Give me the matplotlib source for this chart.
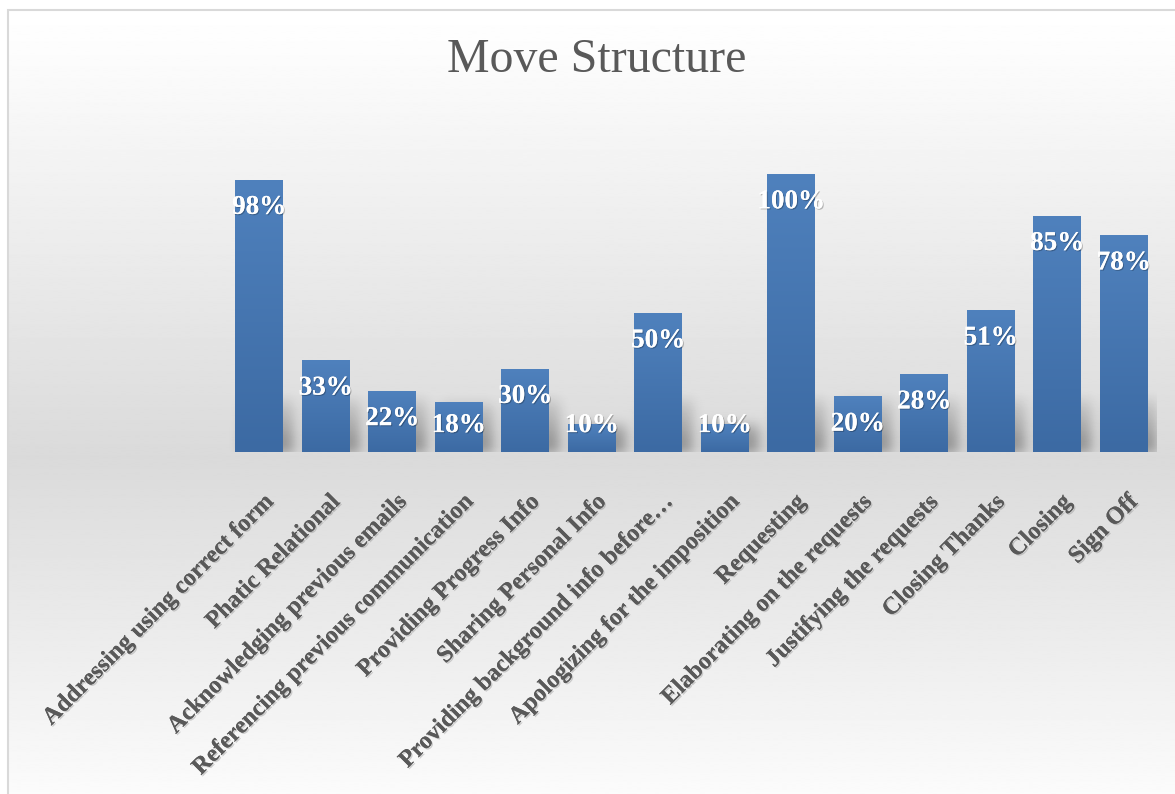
import numpy as np
import matplotlib
matplotlib.use("Agg")
import matplotlib.pyplot as plt
import matplotlib.patheffects as pe
from matplotlib import transforms
from matplotlib.colors import LinearSegmentedColormap
from matplotlib.patches import Rectangle

moves = ['Addressing using correct form',
         'Phatic Relational',
         'Acknowledging previous emails',
         'Referencing previous communication',
         'Providing Progress Info',
         'Sharing Personal Info',
         'Providing background info before\u2026',
         'Apologizing for the imposition',
         'Requesting',
         'Elaborating on the requests',
         'Justifying the requests',
         'Closing Thanks',
         'Closing',
         'Sign Off']
percent = [98, 33, 22, 18, 30, 10, 50, 10, 100, 20, 28, 51, 85, 78]
title = 'Move Structure'

serif = ['Liberation Serif', 'DejaVu Serif']
W, H = 1175, 794
fig = plt.figure(figsize=(W / 100, H / 100), dpi=100)
fig.patch.set_facecolor('white')

# grey gradient behind the chart, inside the frame
bg = fig.add_axes([8 / W, 0, 1 - 8 / W, 1 - 10 / H], zorder=0)
rows = np.linspace(0, 1, 500)
shade = np.interp(rows, [0, 0.05, 0.57, 1.0], [1.0, 0.99, 0.855, 0.985])
bg.imshow(shade[:, None], cmap='gray', vmin=0, vmax=1, aspect='auto',
          extent=[0, 1, 0, 1], interpolation='bilinear')
bg.axis('off')

fig.add_artist(Rectangle((8 / W, -0.02), 1.1, 1 - 10 / H + 0.02,
                         transform=fig.transFigure, fill=False,
                         ec='#d9d9d9', lw=1.5, zorder=1))

ax = fig.add_axes([226 / W, 342 / H, 931 / W, 1.2 * 278 / H], zorder=2)
ax.patch.set_alpha(0)
x = np.arange(len(moves))
vals = np.array(percent) / 100
width = 0.72

bars = ax.bar(x, vals, width=width, color='#4a7ab5', zorder=3)

# soft shadow of the bars
xs = np.linspace(-0.5, 13.5, 1400)
ys = np.linspace(0, 0.3, 120)
X, Y = np.meshgrid(xs, ys)
mask = np.zeros_like(X)
for xi, v in zip(x, vals):
    top = min(v, 0.2)
    mask[(X >= xi - width / 2 + 0.1) & (X <= xi + width / 2 + 0.16) & (Y <= top)] = 1
k = np.exp(-0.5 * (np.arange(-25, 26) / 9.0) ** 2)
k /= k.sum()
mask = np.apply_along_axis(lambda r: np.convolve(r, k, mode='same'), 1, mask)
mask = np.apply_along_axis(lambda c: np.convolve(c, k, mode='same'), 0, mask)
mask *= np.clip(1 - Y / 0.24, 0, 1)
rgba = np.zeros(mask.shape + (4,))
rgba[..., 3] = 0.38 * mask
ax.imshow(rgba, extent=[-0.5, 13.5, 0, 0.3], origin='lower', aspect='auto', zorder=2)

# vertical gradient on each bar
cmap = LinearSegmentedColormap.from_list('bar', ['#3c6aa3', '#4f81bd'])
grad = np.linspace(0, 1, 200)[:, None]
for b in bars:
    x0 = b.get_x()
    im = ax.imshow(grad, cmap=cmap, extent=[x0, x0 + b.get_width(), 0, b.get_height()],
                   origin='lower', aspect='auto', zorder=4)
    im.set_clip_path(b)

ax.set_xlim(-0.5, 13.5)
ax.set_ylim(0, 1.2)
ax.set_xticks([])
ax.set_yticks([])
for s in ax.spines.values():
    s.set_visible(False)

shadow = [pe.withSimplePatchShadow(offset=(0.8, -0.8), shadow_rgbFace='black', alpha=0.25), pe.Normal()]
for xi, v, p in zip(x, vals, percent):
    ax.text(xi, max(v - 0.1, 0.095), f'{p}%', ha='center', va='center', color='white',
            fontsize=19.5, fontweight='bold', family=serif, zorder=6, path_effects=shadow)

lab_tr = transforms.blended_transform_factory(ax.transData, ax.transAxes) + \
    transforms.ScaledTranslation(11 / 100, -47 / 100, fig.dpi_scale_trans)
lab_shadow = [pe.withSimplePatchShadow(offset=(1, -1), shadow_rgbFace='#808080', alpha=0.35), pe.Normal()]
for xi, name in zip(x, moves):
    ax.text(xi, 0, name, rotation=45, rotation_mode='anchor', ha='right', va='center',
            transform=lab_tr, fontsize=17.5, fontweight='bold', color='#595959',
            family=serif, path_effects=lab_shadow, clip_on=False)

fig.text(597 / W, 1 - 60 / H, title, ha='center', va='center', fontsize=34.5,
         color='#595959', family=serif)

fig.savefig('out.png', dpi=100)
